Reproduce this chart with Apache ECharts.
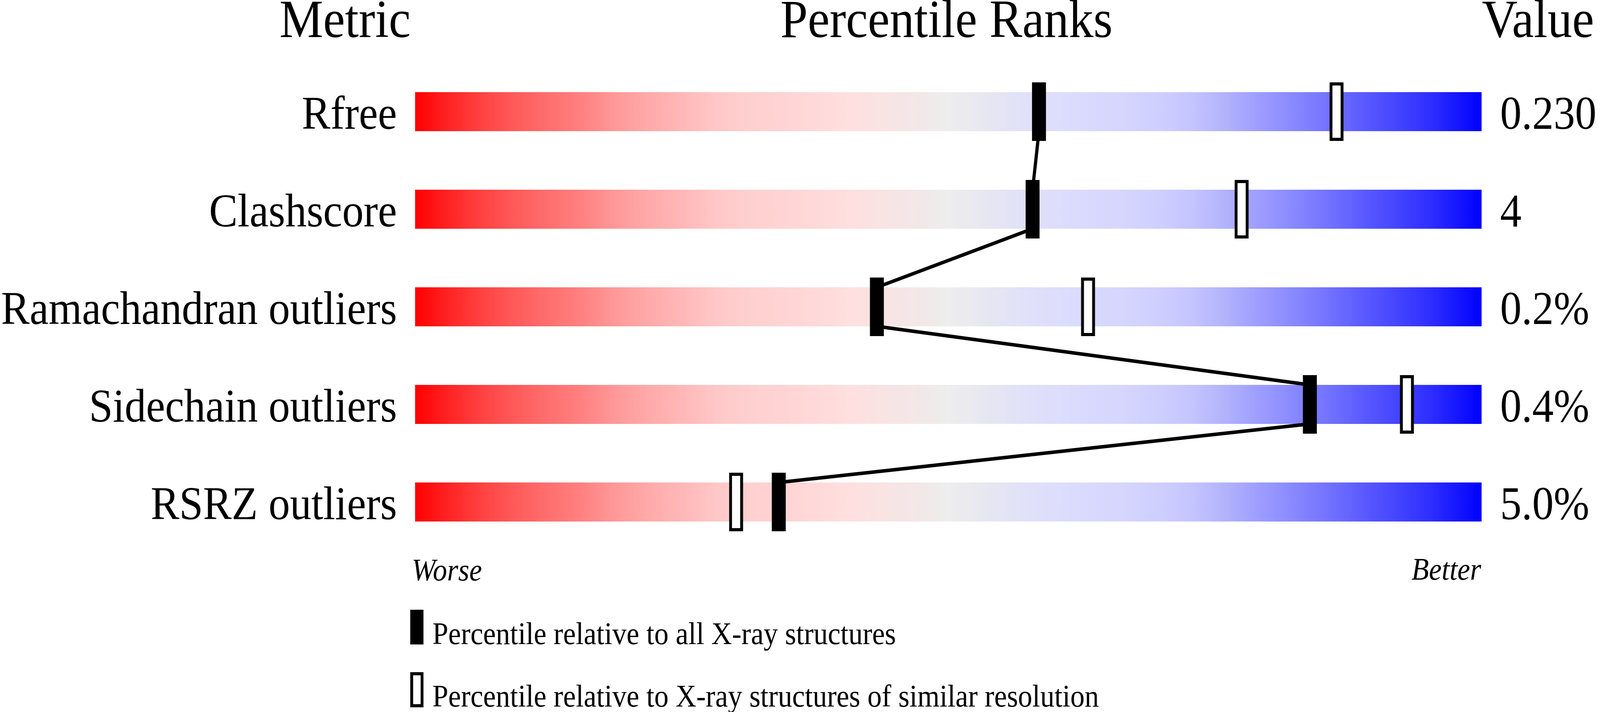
<!DOCTYPE html>
<html><head><meta charset="utf-8">
<script src="https://cdn.jsdelivr.net/npm/echarts@6/dist/echarts.min.js"></script>
<style>html,body{margin:0;padding:0;background:#fff;overflow:hidden}#c{position:absolute;left:0;top:0;width:4485px;height:1824px;transform-origin:0 0}</style>
</head><body><div id="c"></div>
<script>
// ---- data ----
const metrics = ['Rfree', 'Clashscore', 'Ramachandran outliers', 'Sidechain outliers', 'RSRZ outliers'];
const valueLabels = ['0.230', '4', '0.2%', '0.4%', '5.0%'];
const pctAll = [58.5, 57.9, 43.3, 83.9, 34.1];        // percentile vs all X-ray structures
const pctSimilar = [86.4, 77.5, 63.1, 93.0, 30.1];    // percentile vs similar resolution
const headers = ['Metric', 'Percentile Ranks', 'Value'];
const scaleEnds = ['Worse', 'Better'];
const legendNames = ['Percentile relative to all X-ray structures',
                     'Percentile relative to X-ray structures of similar resolution'];

// ---- fit the 4485x1824 design into the actual viewport ----
const DESIGN_W = 4485, DESIGN_H = 1824;
const el = document.getElementById('c');
el.style.transform = 'scale(' + (window.innerWidth / DESIGN_W) + ',' + (window.innerHeight / DESIGN_H) + ')';

// ---- styling ----
const FONT = '"Liberation Serif", "Times New Roman", serif';
const BAR_H = 100, MARK_W = 39, MARK_H = 150, OPEN_LW = 8, LINK_W = 9;
const gradStops = [
  [0.000, '#ff0000'], [0.028, '#ff2020'], [0.060, '#ff4040'], [0.091, '#ff5858'],
  [0.123, '#ff6e6e'], [0.155, '#ff8080'], [0.187, '#ff9898'], [0.219, '#ffaaaa'],
  [0.251, '#ffb8b8'], [0.283, '#ffc8c8'], [0.315, '#ffd0d0'], [0.347, '#ffd4d4'],
  [0.379, '#ffdada'], [0.410, '#ffe0e0'], [0.474, '#f2e8e8'], [0.500, '#eeeeee'],
  [0.531, '#e8e8f0'], [0.564, '#e2e2f8'], [0.596, '#dedefc'], [0.612, '#dcdcfe'],
  [0.661, '#d6d6fe'], [0.693, '#d0d0ff'], [0.725, '#c6c6ff'], [0.757, '#b4b4fc'],
  [0.790, '#9e9eff'], [0.822, '#8a8aff'], [0.854, '#7474ff'], [0.887, '#5c5cff'],
  [0.919, '#4646ff'], [0.952, '#2e2eff'], [0.984, '#1010ff'], [1.000, '#0000ff']
];
const gradient = new echarts.graphic.LinearGradient(0, 0, 1, 0,
  gradStops.map(s => ({ offset: s[0], color: s[1] })));

// legend icons: visible mark in the upper part of a taller (empty-bottomed) icon box,
// so the legend text sits a little below the mark's centre as in the reference
const ICON_BOX_H = 133;
const iconFilled = 'path://M0,0L37,0L37,89L0,89Z M0,' + ICON_BOX_H + 'L37,' + ICON_BOX_H + 'Z';
const iconOpen = 'path://M0,0L37,0L37,90L0,90Z M8,8L8,82L29,82L29,8Z M0,' + ICON_BOX_H + 'L37,' + ICON_BOX_H + 'Z';

const chart = echarts.init(el, null, { renderer: 'canvas', width: DESIGN_W, height: DESIGN_H });

// a blank first line pushes the visible label a little below the row centre
const lowered = v => '\n' + v;

const legendText = { fontSize: 80, fontFamily: FONT, color: '#000', padding: [0, 0, 0, 20] };

const option = {
  animation: false,
  backgroundColor: '#ffffff',
  grid: { left: 1153, right: 332, top: 161, height: 1250, containLabel: false },
  xAxis: { type: 'value', min: 0, max: 100, show: false },
  yAxis: [
    {
      type: 'category', data: metrics, inverse: true, position: 'left',
      axisLine: { show: false }, axisTick: { show: false }, splitLine: { show: false },
      axisLabel: { interval: 0, margin: 51, fontSize: 120, fontFamily: FONT, color: '#000', lineHeight: 24, formatter: lowered }
    },
    {
      type: 'category', data: valueLabels, inverse: true, position: 'right',
      axisLine: { show: false }, axisTick: { show: false }, splitLine: { show: false },
      axisLabel: { interval: 0, margin: 52, fontSize: 120, fontFamily: FONT, color: '#000', lineHeight: 24, formatter: lowered }
    }
  ],
  legend: [
    {
      data: [{ name: legendNames[0], icon: iconFilled, itemStyle: { color: '#000', borderWidth: 0 } }],
      left: 1150, top: 1562, padding: 0, orient: 'vertical',
      itemWidth: 37, itemHeight: ICON_BOX_H, selectedMode: false,
      textStyle: legendText
    },
    {
      data: [{ name: legendNames[1], icon: iconOpen, itemStyle: { color: '#000', borderWidth: 0 } }],
      left: 1150, top: 1722, padding: 0, orient: 'vertical',
      itemWidth: 37, itemHeight: ICON_BOX_H, selectedMode: false,
      textStyle: legendText
    }
  ],
  graphic: [
    { type: 'text', x: 1151, y: 59, style: { text: headers[0], fontSize: 138, fontFamily: FONT, fill: '#000', align: 'right', verticalAlign: 'middle' } },
    { type: 'text', x: 2653, y: 59, style: { text: headers[1], fontSize: 138, fontFamily: FONT, fill: '#000', align: 'center', verticalAlign: 'middle' } },
    { type: 'text', x: 4154, y: 59, style: { text: headers[2], fontSize: 138, fontFamily: FONT, fill: '#000', align: 'left', verticalAlign: 'middle' } },
    { type: 'text', x: 1154, y: 1466, style: { text: scaleEnds[0], fontSize: 80, fontStyle: 'italic', fontFamily: FONT, fill: '#000', align: 'left', verticalAlign: 'middle' } },
    { type: 'text', x: 4152, y: 1464, style: { text: scaleEnds[1], fontSize: 80, fontStyle: 'italic', fontFamily: FONT, fill: '#000', align: 'right', verticalAlign: 'middle' } }
  ],
  series: [
    {
      name: 'scale', type: 'bar', silent: true, barWidth: BAR_H, z: 1,
      data: metrics.map(() => 100),
      itemStyle: { color: gradient }
    },
    {
      name: 'links', type: 'custom', silent: true, z: 2,
      data: pctAll.map((v, i) => [v, i]),
      encode: { x: 0, y: 1 },
      renderItem: function (params, api) {
        const i = params.dataIndex;
        if (i >= pctAll.length - 1) return null;
        const a = api.coord([pctAll[i], i]);
        const b = api.coord([pctAll[i + 1], i + 1]);
        return {
          type: 'line',
          shape: { x1: a[0], y1: a[1] + BAR_H / 2, x2: b[0], y2: b[1] - BAR_H / 2 },
          style: { stroke: '#000', lineWidth: LINK_W, lineCap: 'butt' }
        };
      }
    },
    {
      name: legendNames[0], type: 'custom', z: 3,
      itemStyle: { color: '#000' },
      data: pctAll.map((v, i) => [v, i]),
      encode: { x: 0, y: 1 },
      renderItem: function (params, api) {
        const p = api.coord([api.value(0), api.value(1)]);
        return {
          type: 'rect',
          shape: { x: p[0] - MARK_W / 2, y: p[1] - MARK_H / 2, width: MARK_W, height: MARK_H },
          style: { fill: '#000' }
        };
      }
    },
    {
      name: legendNames[1], type: 'custom', z: 3,
      itemStyle: { color: '#fff', borderColor: '#000', borderWidth: OPEN_LW },
      data: pctSimilar.map((v, i) => [v, i]),
      encode: { x: 0, y: 1 },
      renderItem: function (params, api) {
        const p = api.coord([api.value(0), api.value(1)]);
        return {
          type: 'rect',
          shape: { x: p[0] - (MARK_W - OPEN_LW) / 2, y: p[1] - (MARK_H - OPEN_LW) / 2,
                   width: MARK_W - OPEN_LW, height: MARK_H - OPEN_LW },
          style: { fill: '#fff', stroke: '#000', lineWidth: OPEN_LW }
        };
      }
    }
  ]
};
chart.setOption(option);
</script>
</body></html>
